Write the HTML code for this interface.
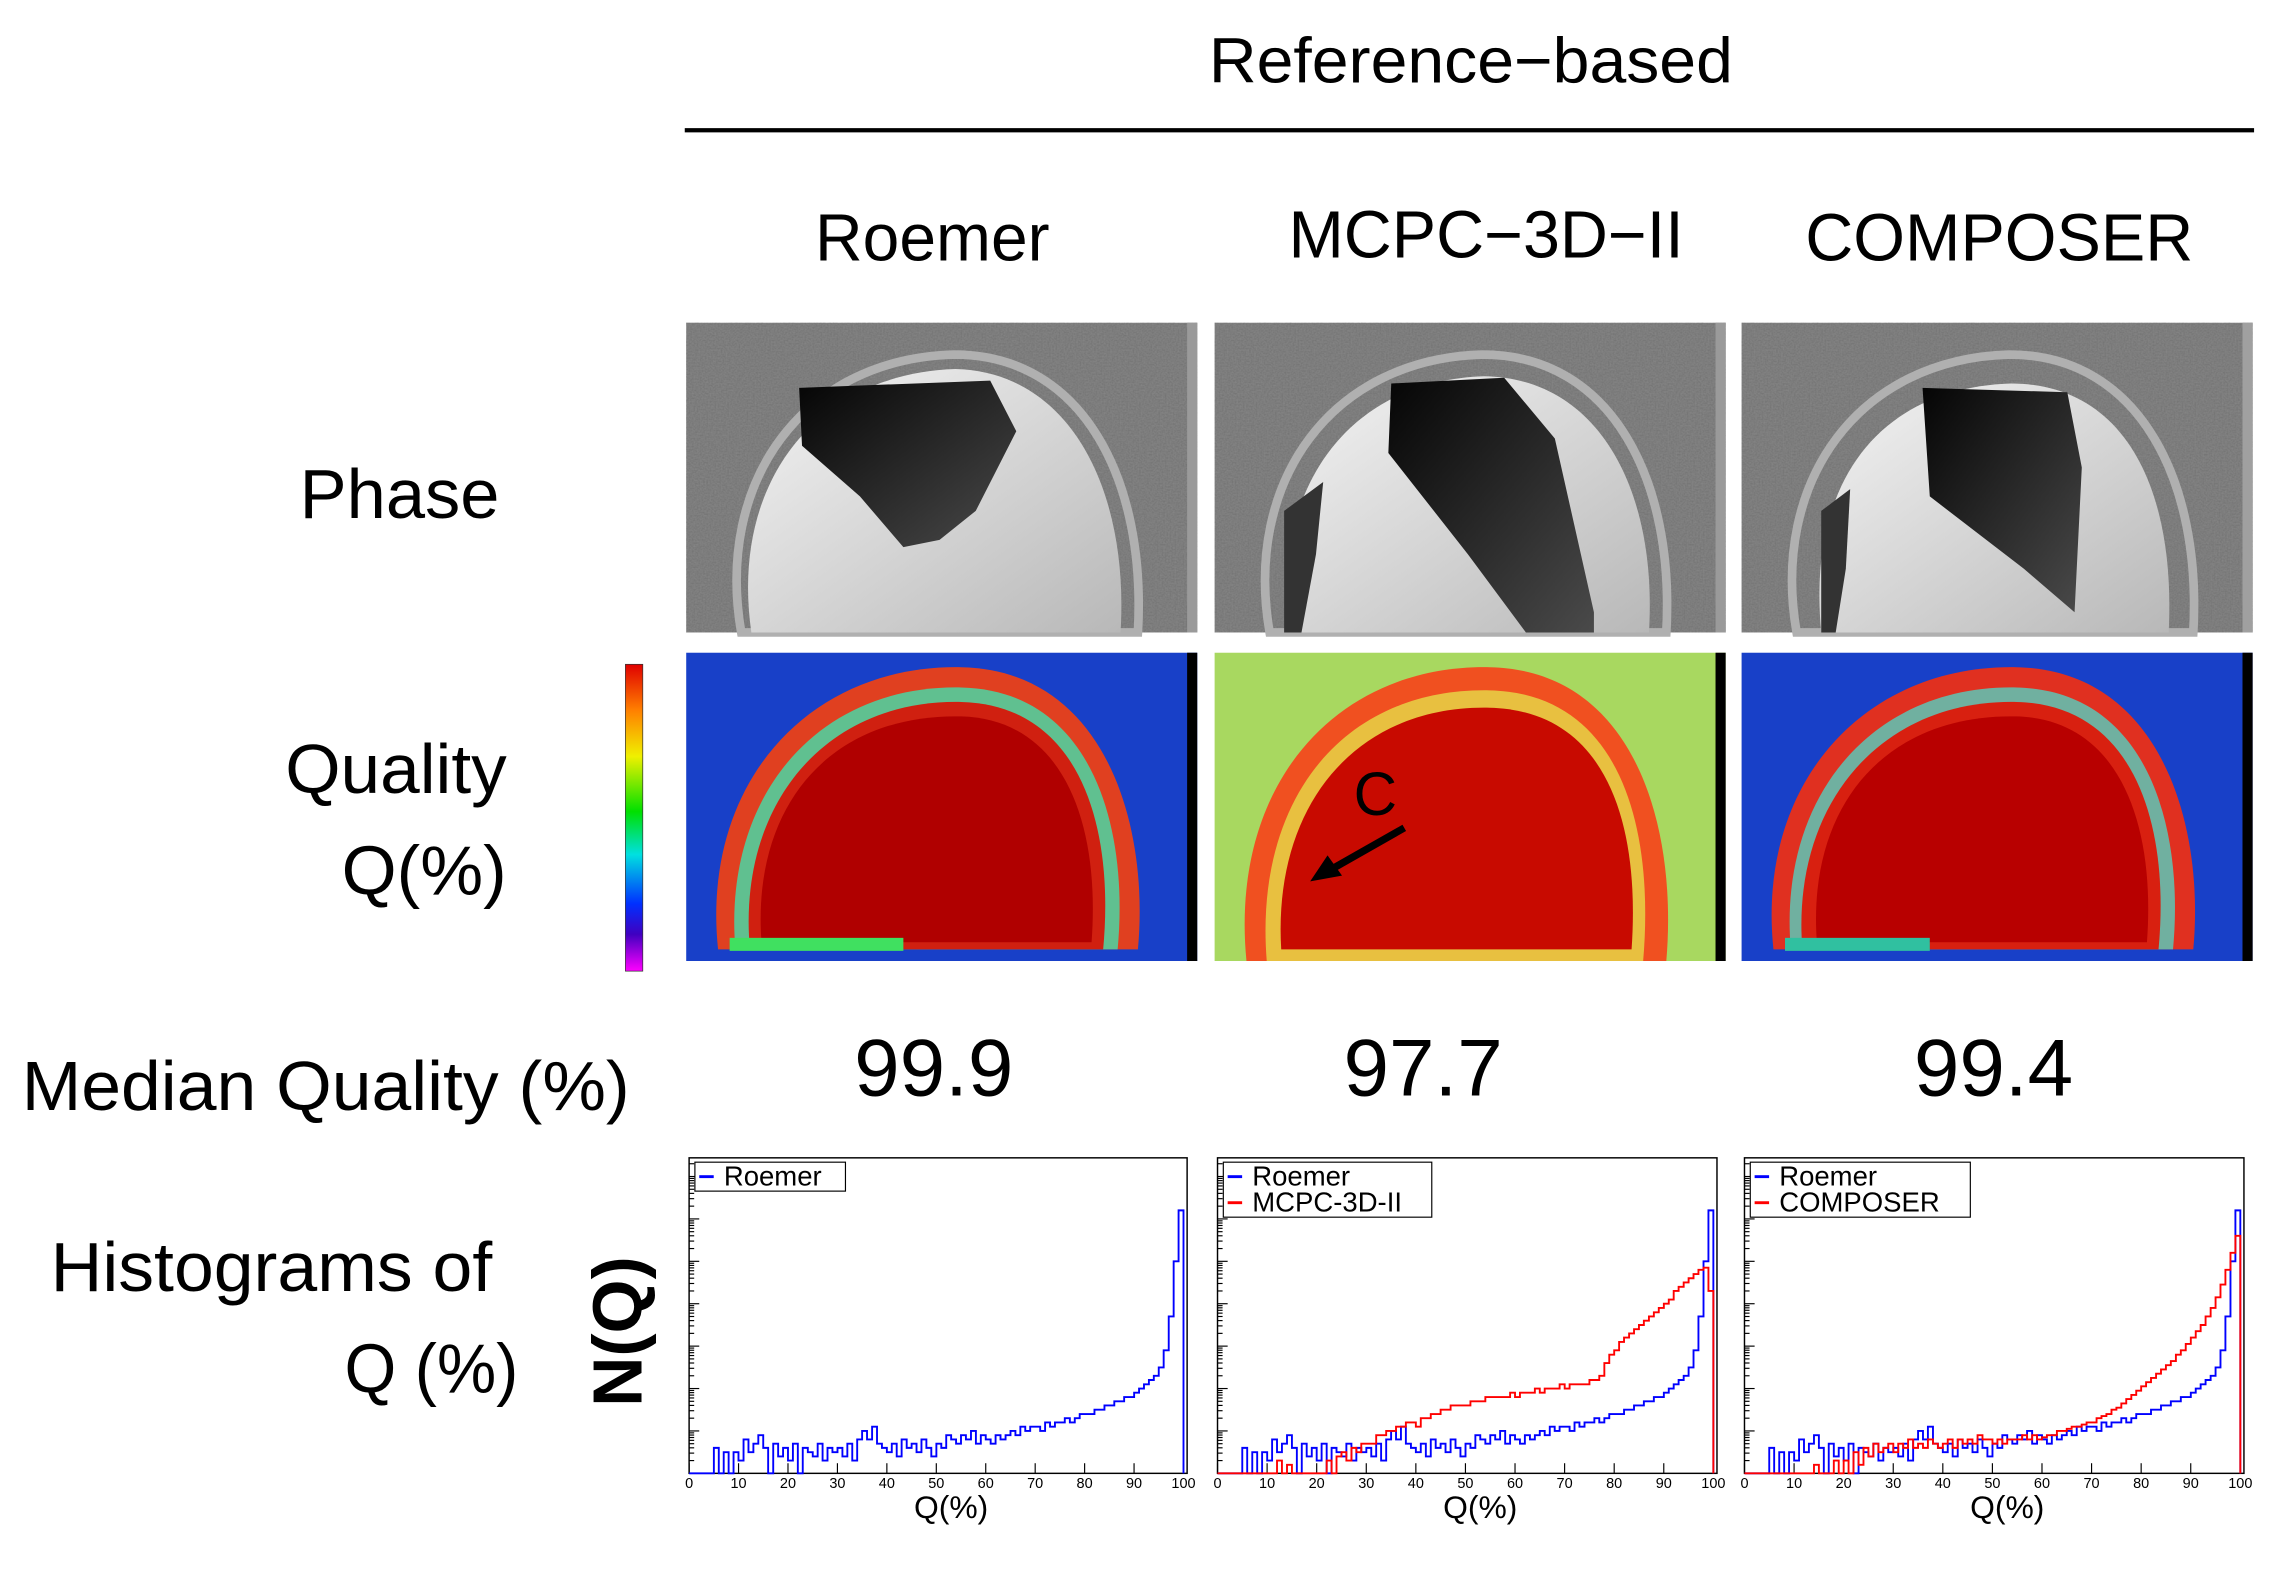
<!DOCTYPE html>
<html><head><meta charset="utf-8"><style>
html,body{margin:0;padding:0;background:#fff;}
svg{display:block;}
text{font-family:"Liberation Sans",sans-serif;}
</style></head><body>
<svg id="fig" width="2270" height="1579" viewBox="0 0 1568 1091" preserveAspectRatio="none" xmlns="http://www.w3.org/2000/svg">
<defs>
<linearGradient id="cbar" x1="0" y1="0" x2="0" y2="1">
<stop offset="0" stop-color="#e00000"/><stop offset="0.15" stop-color="#ff8000"/><stop offset="0.3" stop-color="#f0f000"/><stop offset="0.48" stop-color="#00e000"/><stop offset="0.62" stop-color="#00e0e0"/><stop offset="0.78" stop-color="#0030ff"/><stop offset="0.88" stop-color="#4000c0"/><stop offset="1" stop-color="#ff00ff"/>
</linearGradient>
<linearGradient id="gw" x1="0" y1="0" x2="1" y2="1"><stop offset="0" stop-color="#f4f4f4"/><stop offset="1" stop-color="#b8b8b8"/></linearGradient>
<linearGradient id="gb" x1="0" y1="0" x2="1" y2="1"><stop offset="0" stop-color="#050505"/><stop offset="1" stop-color="#4a4a4a"/></linearGradient>
<filter id="noise" x="0" y="0" width="1" height="1"><feTurbulence type="fractalNoise" baseFrequency="0.9" numOctaves="1" seed="3"/><feColorMatrix type="saturate" values="0"/><feComponentTransfer><feFuncA type="linear" slope="0" intercept="0.45"/></feComponentTransfer><feBlend in2="SourceGraphic" mode="multiply"/></filter>
</defs>

<text x="835" y="57" font-size="44" textLength="362" lengthAdjust="spacingAndGlyphs">Reference−based</text>
<line x1="473" y1="90" x2="1557" y2="90" stroke="#000" stroke-width="3"/>
<text x="563" y="180" font-size="46" textLength="162" lengthAdjust="spacingAndGlyphs">Roemer</text>
<text x="890" y="178" font-size="46" textLength="273" lengthAdjust="spacingAndGlyphs">MCPC−3D−II</text>
<text x="1247" y="180" font-size="46" textLength="268" lengthAdjust="spacingAndGlyphs">COMPOSER</text>

<text x="207" y="358" font-size="48" textLength="138" lengthAdjust="spacingAndGlyphs">Phase</text>
<text x="197" y="548" font-size="48" textLength="153" lengthAdjust="spacingAndGlyphs">Quality</text>
<text x="236" y="618" font-size="48" textLength="114" lengthAdjust="spacingAndGlyphs">Q(%)</text>
<rect x="432" y="459" width="12" height="212" fill="url(#cbar)" stroke="#333" stroke-width="0.5"/>

<!-- Phase panels -->
<g transform="translate(474,223)">
<rect width="353" height="214" fill="#8c8c8c" filter="url(#noise)"/>
<path d="M38 214 C 20 110, 80 25, 185 22 C 275 22, 318 110, 312 214 Z" fill="none" stroke="#b0b0b0" stroke-width="6"/>
<path d="M45 214 C 30 110, 90 35, 186 32 C 266 34, 306 117, 300 214 Z" fill="url(#gw)"/>
<path d="M78 45 L210 40 L228 75 L200 130 L175 150 L150 155 L120 120 L80 85 Z" fill="url(#gb)"/>
<rect x="346" width="7" height="214" fill="#9a9a9a"/>
</g>
<g transform="translate(839,223)">
<rect width="353" height="214" fill="#8c8c8c" filter="url(#noise)"/>
<path d="M38 214 C 20 110, 80 25, 185 22 C 275 22, 318 110, 312 214 Z" fill="none" stroke="#b0b0b0" stroke-width="6"/>
<path d="M50 214 C 40 110, 95 40, 186 37 C 266 38, 306 117, 300 214 Z" fill="url(#gw)"/>
<path d="M122 42 L200 38 L235 80 L262 200 L262 214 L215 214 L175 160 L120 90 Z" fill="url(#gb)"/>
<path d="M48 130 L75 110 L70 160 L60 214 L48 214 Z" fill="#333"/>
<rect x="346" width="7" height="214" fill="#9a9a9a"/>
</g>
<g transform="translate(1203,223)">
<rect width="353" height="214" fill="#8c8c8c" filter="url(#noise)"/>
<path d="M38 214 C 20 110, 80 25, 185 22 C 275 22, 318 110, 312 214 Z" fill="none" stroke="#b0b0b0" stroke-width="6"/>
<path d="M55 214 C 45 110, 95 45, 186 42 C 266 42, 300 117, 295 214 Z" fill="url(#gw)"/>
<path d="M125 45 L225 48 L235 100 L230 200 L195 170 L130 120 Z" fill="url(#gb)"/>
<path d="M55 130 L75 115 L72 170 L65 214 L55 214 Z" fill="#333"/>
<rect x="346" width="7" height="214" fill="#a0a0a0"/>
</g>

<!-- Quality panels -->
<g transform="translate(474,451)">
<rect width="353" height="213" fill="#1840c8"/>
<path d="M22 205 C 10 90, 85 8, 190 10 C 290 12, 320 120, 312 205 Z" fill="#e04020"/>
<path d="M34 205 C 25 100, 90 22, 190 24 C 280 26, 306 120, 298 205 Z" fill="#60c090"/>
<path d="M44 205 C 35 105, 96 32, 190 34 C 272 36, 296 120, 288 205 Z" fill="#d02010"/>
<path d="M52 200 C 45 105, 100 42, 190 44 C 262 46, 286 120, 280 200 Z" fill="#b00000"/>
<rect x="30" y="197" width="120" height="9" fill="#40e060"/>
<rect x="346" width="7" height="213" fill="#000"/>
</g>
<g transform="translate(839,451)">
<rect width="353" height="213" fill="#a8d860"/>
<path d="M22 213 C 10 90, 85 8, 190 10 C 290 12, 320 120, 312 213 Z" fill="#f05020"/>
<path d="M36 213 C 27 100, 90 24, 190 26 C 280 28, 304 120, 296 213 Z" fill="#e8c040"/>
<path d="M46 205 C 40 105, 98 36, 190 38 C 272 40, 294 120, 288 205 Z" fill="#c80a00"/>
<rect x="346" width="7" height="213" fill="#000"/>
<text x="96" y="112" font-size="42" textLength="30" lengthAdjust="spacingAndGlyphs">C</text>
<line x1="131" y1="121" x2="80" y2="150" stroke="#000" stroke-width="5"/>
<polygon points="66,158 78,140 88,154" fill="#000"/>
</g>
<g transform="translate(1203,451)">
<rect width="353" height="213" fill="#1840c8"/>
<path d="M22 205 C 10 90, 85 8, 190 10 C 290 12, 320 120, 312 205 Z" fill="#e03020"/>
<path d="M34 205 C 25 100, 90 22, 190 24 C 280 26, 306 120, 298 205 Z" fill="#70b0a0"/>
<path d="M42 205 C 34 105, 96 32, 190 34 C 272 36, 296 120, 288 205 Z" fill="#d82010"/>
<path d="M52 200 C 45 105, 100 42, 190 44 C 262 46, 286 120, 280 200 Z" fill="#b80000"/>
<rect x="30" y="197" width="100" height="9" fill="#30c0a0"/>
<rect x="346" width="7" height="213" fill="#000"/>
</g>

<text x="15" y="767" font-size="48" textLength="420" lengthAdjust="spacingAndGlyphs">Median Quality (%)</text>
<text x="590" y="757" font-size="56" textLength="110" lengthAdjust="spacingAndGlyphs">99.9</text>
<text x="928" y="757" font-size="56" textLength="110" lengthAdjust="spacingAndGlyphs">97.7</text>
<text x="1322" y="757" font-size="56" textLength="110" lengthAdjust="spacingAndGlyphs">99.4</text>

<text x="35" y="892" font-size="48" textLength="305" lengthAdjust="spacingAndGlyphs">Histograms of</text>
<text x="238" y="962" font-size="48" textLength="120" lengthAdjust="spacingAndGlyphs">Q (%)</text>
<text transform="translate(443,920) rotate(-90)" font-size="48" font-weight="bold" text-anchor="middle">N(Q)</text>
<g id="plots"></g>
</svg>
<script>
// log10 counts per 1% bin, Q = 0..100
const bins = Array.from({length:101},(_, i)=>i);
const xTicks = [0,10,20,30,40,50,60,70,80,90,100];
const roemerVals = [0,0,0,0,0, 0.6,0,0.5,0,0.5, 0.3,0.8,0.5,0.7,0.9, 0.6,0,0.7,0.4,0.6, 0.3,0.7,0,0.6,0.5, 0.4,0.7,0.3,0.6,0.5, 0.6,0.4,0.7,0.3,0.8, 1.0,0.8,1.1,0.7,0.6, 0.5,0.7,0.4,0.8,0.6, 0.7,0.5,0.8,0.6,0.4, 0.7,0.6,0.9,0.8,0.7, 0.9,0.8,1.0,0.7,0.9, 0.8,0.7,0.9,0.8,0.9, 1.0,0.9,1.1,1.0,1.1, 1.1,1.0,1.2,1.1,1.2, 1.2,1.3,1.2,1.3,1.4, 1.4,1.4,1.5,1.5,1.6, 1.6,1.7,1.7,1.8,1.8, 1.9,2.0,2.1,2.2,2.3, 2.5,2.9,3.7,5.0,6.2, 0];
const mcpcVals = [0,0,0,0,0, 0,0,0,0,0, 0,0,0.3,0,0.2, 0,0,0,0,0, 0,0,0.3,0,0.4, 0.5,0.3,0.6,0.5,0.7, 0.7,0.7,0.9,0.9,1.0, 1.0,1.1,1.1,1.2,1.2, 1.1,1.3,1.3,1.4,1.4, 1.5,1.5,1.6,1.6,1.6, 1.6,1.7,1.7,1.7,1.8, 1.8,1.8,1.8,1.8,1.9, 1.8,1.9,1.9,1.9,2.0, 1.9,2.0,2.0,2.0,2.1, 2.0,2.1,2.1,2.1,2.1, 2.2,2.2,2.3,2.6,2.8, 2.9,3.1,3.2,3.3,3.4, 3.5,3.6,3.7,3.8,3.9, 4.0,4.1,4.3,4.4,4.5, 4.6,4.7,4.8,4.85,4.3, 0];
const composerVals = [0,0,0,0,0, 0,0,0,0,0, 0,0,0,0,0.2, 0,0,0,0.3,0, 0.3,0,0.5,0.2,0.6, 0.4,0.7,0.5,0.6,0.7, 0.5,0.7,0.6,0.8,0.6, 0.7,0.6,0.8,0.7,0.6, 0.7,0.8,0.6,0.8,0.7, 0.8,0.7,0.9,0.8,0.8, 0.7,0.8,0.7,0.8,0.8, 0.8,0.9,0.8,0.9,0.8, 0.85,0.9,0.9,1.0,1.0, 1.05,1.1,1.1,1.15,1.2, 1.2,1.3,1.35,1.4,1.5, 1.55,1.65,1.75,1.85,1.95, 2.05,2.15,2.25,2.35,2.45, 2.55,2.65,2.8,2.9,3.05, 3.2,3.35,3.5,3.7,3.9, 4.15,4.45,4.8,5.2,5.6, 0];
const legendNames = [["Roemer"],["Roemer","MCPC-3D-II"],["Roemer","COMPOSER"]];

const NS = "http://www.w3.org/2000/svg";
const plotsG = document.getElementById("plots");
const frames = [{l:476,r:820},{l:841,r:1186},{l:1205,r:1550}];
const top_ = 800, bot = 1018, decade = 29.3;
const seriesSets = [[[roemerVals,"#0000ff"]],[[roemerVals,"#0000ff"],[mcpcVals,"#ff0000"]],[[roemerVals,"#0000ff"],[composerVals,"#ff0000"]]];
function mk(tag, attrs){const e=document.createElementNS(NS,tag);for(const k in attrs)e.setAttribute(k,attrs[k]);return e;}
frames.forEach((f,pi)=>{
  const x0=f.l, x100=f.r-2.5;
  const xs = q => x0 + (q/100)*(x100-x0);
  const ys = v => bot - v*decade;
  const g = mk("g",{});
  
  
  const fr = mk("rect",{x:f.l,y:top_,width:f.r-f.l,height:bot-top_,fill:"none",stroke:"#000","stroke-width":1});
  
  
  g.appendChild(fr);
  for(let d=0; d<8; d++){
    for(let m=1;m<10;m++){
      const y = bot - (d + Math.log10(m))*decade;
      if(y<top_) continue;
      const t = mk("line",{x1:f.l,x2:f.l+(m===1?7:3.5),y1:y,y2:y,stroke:"#000","stroke-width":0.8});
      
      
      g.appendChild(t);
    }
  }
  xTicks.forEach(q=>{
    const t = mk("line",{x1:xs(q),x2:xs(q),y1:bot,y2:bot-7,stroke:"#000","stroke-width":0.8});
    
    
    g.appendChild(t);
    const lb = mk("text",{x:xs(q),y:bot+10,"font-size":10,"text-anchor":"middle"});
    lb.textContent=q;
    
    
    g.appendChild(lb);
  });
  const xt = mk("text",{x:(f.l+f.r)/2+9,y:bot+31,"font-size":22,"text-anchor":"middle"});
  xt.textContent="Q(%)";
  
  
  g.appendChild(xt);
  seriesSets[pi].forEach(([vals,col],si)=>{
    let d = "M"+xs(0)+" "+ys(vals[0]);
    for(let i=0;i<bins.length;i++){
      const q=bins[i];
      d += " V"+ys(vals[i]).toFixed(1)+" H"+xs(Math.min(q+1,100)).toFixed(1);
    }
    d += " V"+bot;
    const p = mk("path",{d:d,fill:"none",stroke:col,"stroke-width":1.3});
    
    
    g.appendChild(p);
  });
  const names = legendNames[pi];
  const lw = pi===0?104:(pi===1?144:152);
  const lg = mk("g",{});
  
  
  lg.appendChild(mk("rect",{x:f.l+4,y:top_+3,width:lw,height:names.length*18+2,fill:"#fff",stroke:"#000","stroke-width":0.8}));
  names.forEach((n,i)=>{
    const yy = top_+13+i*18;
    lg.appendChild(mk("line",{x1:f.l+7,x2:f.l+17,y1:yy,y2:yy,stroke:i===0?"#0000ff":"#ff0000","stroke-width":2}));
    const tx = mk("text",{x:f.l+24,y:yy+6,"font-size":19});
    tx.textContent=n;
    
    
    lg.appendChild(tx);
  });
  g.appendChild(lg);
  plotsG.appendChild(g);
});
</script>
</body></html>
